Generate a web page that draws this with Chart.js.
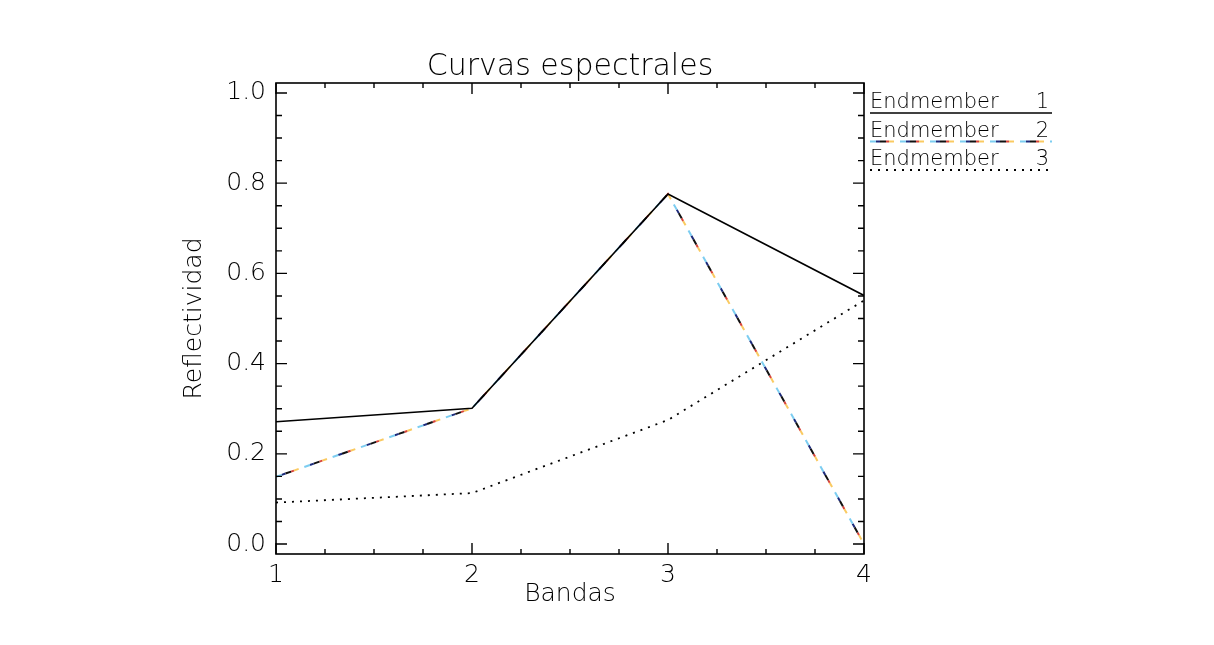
<!DOCTYPE html>
<html>
<head>
<meta charset="utf-8">
<script src="https://cdn.jsdelivr.net/npm/chart.js@4.4.1/dist/chart.umd.min.js"></script>
<style>
  html, body { margin: 0; padding: 0; background: #fff; }
  #chart { display: block; }
</style>
</head>
<body>
<canvas id="chart" width="1214" height="645"></canvas>
<script>
const bandas = [1, 2, 3, 4];
const endmember1 = [0.271, 0.301, 0.776, 0.551];
const endmember2 = [0.149, 0.301, 0.776, 0.0];
const endmember3 = [0.092, 0.113, 0.275, 0.54];
const seriesNames = ['Endmember 1', 'Endmember 2', 'Endmember 3'];
const xTicks = [1, 2, 3, 4];
const yTicks = [0.0, 0.2, 0.4, 0.6, 0.8, 1.0];

const FONT = "'DejaVu Sans', sans-serif";
const WEIGHT = '300';
const INK = '#000';

function points(values) {
    return bandas.map((b, i) => ({x: b, y: values[i]}));
}

// endmember 2 is a dashed line with coloured pieces, drawn as dash layers
const dashPeriod = 30;
const em2Layers = [
    {color: 'rgba(110,200,240,0.9)', start: 0, len: 6},
    {color: '#1c2a7a', start: 6, len: 4},
    {color: '#111111', start: 10, len: 6},
    {color: '#d8443a', start: 16, len: 3},
    {color: 'rgba(250,196,80,0.9)', start: 19, len: 5}
];

const datasets = [
    {label: seriesNames[0], legendRow: 0, data: points(endmember1), borderColor: '#000', borderWidth: 1.6},
    ...em2Layers.map(l => ({
        label: seriesNames[1], legendRow: 1, data: points(endmember2),
        borderColor: l.color, borderWidth: 2,
        borderDash: [l.len, dashPeriod - l.len],
        borderDashOffset: dashPeriod - l.start
    })),
    {label: seriesNames[2], legendRow: 2, data: points(endmember3), borderColor: '#000', borderWidth: 1.8, borderDash: [2, 6]}
];
datasets.forEach(d => { d.pointRadius = 0; d.fill = false; d.tension = 0; });

// box with inward ticks on all four sides
const boxTicks = {
    id: 'boxTicks',
    afterDraw(chart) {
        const {ctx, chartArea: a, scales: {x, y}} = chart;
        ctx.save();
        ctx.strokeStyle = '#000';
        ctx.lineWidth = 1.6;
        ctx.strokeRect(a.left, a.top, a.right - a.left, a.bottom - a.top);
        ctx.lineWidth = 1.4;
        ctx.beginPath();
        for (let v = xTicks[0]; v <= xTicks[xTicks.length - 1] + 1e-6; v += 0.25) {
            const px = x.getPixelForValue(v);
            const len = Math.abs(v - Math.round(v)) < 1e-6 ? 11 : 5;
            ctx.moveTo(px, a.bottom); ctx.lineTo(px, a.bottom - len);
            ctx.moveTo(px, a.top); ctx.lineTo(px, a.top + len);
        }
        for (let v = 0; v <= 1 + 1e-6; v += 0.05) {
            const py = y.getPixelForValue(v);
            const len = Math.abs(v * 5 - Math.round(v * 5)) < 1e-6 ? 11 : 6;
            ctx.moveTo(a.left, py); ctx.lineTo(a.left + len, py);
            ctx.moveTo(a.right, py); ctx.lineTo(a.right - len, py);
        }
        ctx.stroke();
        ctx.restore();
    }
};

// legend to the right: text with a sample of the line underneath
const sideLegend = {
    id: 'sideLegend',
    afterDraw(chart) {
        const {ctx, chartArea: a} = chart;
        const x0 = a.right + 6, x1 = x0 + 182;
        ctx.save();
        ctx.font = WEIGHT + ' 21px ' + FONT;
        ctx.fillStyle = INK;
        ctx.textBaseline = 'alphabetic';
        seriesNames.forEach((name, i) => {
            const base = a.top + 25 + i * 28.5;
            const cut = name.lastIndexOf(' ');
            ctx.textAlign = 'left';
            ctx.fillText(name.slice(0, cut), x0, base);
            ctx.textAlign = 'right';
            ctx.fillText(name.slice(cut + 1), x1 - 3, base);
        });
        chart.data.datasets.forEach(ds => {
            const ly = a.top + 30 + ds.legendRow * 28.5;
            ctx.strokeStyle = ds.borderColor;
            ctx.lineWidth = ds.borderWidth;
            ctx.setLineDash(ds.borderDash || []);
            ctx.lineDashOffset = ds.borderDashOffset || 0;
            ctx.beginPath();
            ctx.moveTo(x0, ly);
            ctx.lineTo(x1, ly);
            ctx.stroke();
        });
        ctx.restore();
    }
};

new Chart(document.getElementById('chart').getContext('2d'), {
    type: 'line',
    data: {datasets: datasets},
    options: {
        responsive: false,
        animation: false,
        devicePixelRatio: 1,
        layout: {padding: {left: 0, right: 350, top: 0, bottom: 0}},
        scales: {
            x: {
                type: 'linear',
                min: 1,
                max: 4,
                afterBuildTicks: s => { s.ticks = xTicks.map(v => ({value: v})); },
                afterFit: s => { s.height = 91; },
                grid: {display: false, drawTicks: false},
                border: {display: false},
                ticks: {
                    padding: 6,
                    color: INK,
                    font: {family: FONT, size: 25, weight: WEIGHT},
                    maxRotation: 0,
                    autoSkip: false,
                    callback: v => String(v)
                },
                title: {
                    display: true,
                    text: 'Bandas',
                    color: INK,
                    font: {family: FONT, size: 25, weight: WEIGHT},
                    padding: {top: 0, bottom: 36}
                }
            },
            y: {
                type: 'linear',
                min: -0.022,
                max: 1.022,
                afterBuildTicks: s => { s.ticks = yTicks.map(v => ({value: v})); },
                afterFit: s => { s.width = 276; },
                grid: {display: false, drawTicks: false},
                border: {display: false},
                ticks: {
                    padding: 10,
                    color: INK,
                    font: {family: FONT, size: 25, weight: WEIGHT},
                    callback: v => v.toFixed(1)
                },
                title: {
                    display: true,
                    text: 'Reflectividad',
                    color: INK,
                    font: {family: FONT, size: 25, weight: WEIGHT},
                    padding: {top: 179, bottom: 0}
                }
            }
        },
        plugins: {
            legend: {display: false},
            tooltip: {enabled: false},
            title: {
                display: true,
                fullSize: false,
                text: 'Curvas espectrales',
                color: INK,
                font: {family: FONT, size: 30, weight: WEIGHT, lineHeight: 1.0},
                padding: {top: 52, bottom: 1}
            }
        }
    },
    plugins: [boxTicks, sideLegend]
});
</script>
</body>
</html>
